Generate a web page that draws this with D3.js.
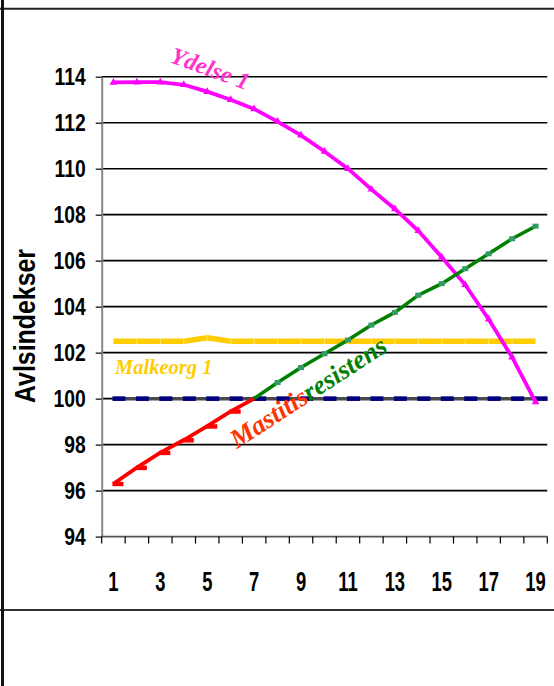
<!DOCTYPE html>
<html><head><meta charset="utf-8">
<script src="https://cdn.jsdelivr.net/npm/d3@7"></script>
<style>body{margin:0;background:#fff} svg{display:block}</style>
</head><body><svg id="c" width="554" height="686"></svg>
<script>
const categories = ["1","2","3","4","5","6","7","8","9","10","11","12","13","14","15","16","17","18","19"];
const xTickLabels = ["1","3","5","7","9","11","13","15","17","19"];
const yTicks = [94,96,98,100,102,104,106,108,110,112,114];
const ydelse   = [113.75,113.76,113.76,113.65,113.35,113.0,112.6,112.05,111.45,110.75,110.0,109.1,108.25,107.3,106.15,104.95,103.45,101.8,99.85];
const mastitis = [96.3,97.0,97.65,98.2,98.8,99.45,100.0,100.7,101.35,101.95,102.55,103.2,103.75,104.5,105.0,105.65,106.3,106.95,107.5];
const malkeorg = [102.5,102.5,102.5,102.5,102.65,102.5,102.5,102.5,102.5,102.5,102.5,102.5,102.5,102.5,102.5,102.5,102.5,102.5,102.5];
const basis    = [100,100,100,100,100,100,100,100,100,100,100,100,100,100,100,100,100,100,100];
const mastitisSplit = 6; // index where red changes to green

const svg = d3.select("#c");
const L = 101.7, R = 547.3, T = 76.7, B = 536.6;
const x = d3.scaleBand().domain(categories).range([L, R]);
const cx = c => x(c) + x.bandwidth() / 2;
const y = d3.scaleLinear().domain([94, 114]).range([B, T]);
const numFont = "'Liberation Sans',Arial,sans-serif";
const serif = "'Liberation Serif','Times New Roman',serif";

// frame
svg.append("line").attr("x1",0).attr("x2",554).attr("y1",8.8).attr("y2",8.8).attr("stroke","#222").attr("stroke-width",2);
svg.append("line").attr("x1",0).attr("x2",554).attr("y1",610).attr("y2",610).attr("stroke","#333").attr("stroke-width",2);
svg.append("line").attr("x1",2.5).attr("x2",2.5).attr("y1",0).attr("y2",686).attr("stroke","#111").attr("stroke-width",3);

// gridlines
svg.append("g").selectAll("line").data(yTicks.filter(t => t > 94)).join("line")
  .attr("x1", L).attr("x2", R).attr("y1", d => y(d)).attr("y2", d => y(d))
  .attr("stroke", "#000").attr("stroke-width", 1.6);

// y axis
const gy = svg.append("g").attr("transform", `translate(${L},0)`)
  .call(d3.axisLeft(y).tickValues(yTicks).tickSize(6).tickSizeOuter(0).tickPadding(10));
gy.select(".domain").attr("stroke", "#888").attr("stroke-width", 2);
gy.selectAll(".tick line").attr("stroke", "#000").attr("stroke-width", 1.2);
gy.selectAll(".tick text").attr("x", null).attr("transform", "translate(-16,0) scale(0.84,1)")
  .attr("font-family", numFont).attr("font-weight", "bold")
  .attr("font-size", 23).attr("fill", "#000").attr("dy", "0.36em");

// x axis
const gx = svg.append("g").attr("transform", `translate(0,${B})`);
gx.append("line").attr("x1", L).attr("x2", R).attr("stroke", "#555").attr("stroke-width", 1.6);
gx.selectAll("line.tk").data(categories.concat(["end"])).join("line").attr("class","tk")
  .attr("x1", d => d === "end" ? R : x(d)).attr("x2", d => d === "end" ? R : x(d))
  .attr("y1", 0).attr("y2", 7).attr("stroke", "#000").attr("stroke-width", 1.2);
gx.selectAll("text").data(xTickLabels).join("text")
  .attr("transform", d => `translate(${cx(d)},54) scale(0.8,1.2)`)
  .attr("text-anchor", "middle").attr("font-family", numFont).attr("font-weight", "bold")
  .attr("font-size", 23).attr("fill", "#000").text(d => d);

// y title
svg.append("text").attr("transform", "translate(35,403) rotate(-90)")
  .attr("font-family", numFont).attr("font-weight", "bold").attr("font-size", 30)
  .attr("textLength", 154).attr("lengthAdjust", "spacingAndGlyphs").attr("fill", "#000").text("Avlsindekser");

const line = d3.line().x(d => cx(d.c)).y(d => y(d.v));
const pts = arr => arr.map((v, i) => ({c: categories[i], v}));

// basis (100) grey line with navy dashes
const basisPts = pts(basis);
svg.append("path").attr("d", line(basisPts)).attr("fill", "none").attr("stroke", "#4a4a4a").attr("stroke-width", 3.5);
svg.append("g").selectAll("rect").data(basisPts).join("rect")
  .attr("x", d => cx(d.c) - 1).attr("y", d => y(d.v) - 2.3).attr("width", 13).attr("height", 4.6)
  .attr("fill", "#000080");

// malkeorg
const malkPts = pts(malkeorg);
svg.append("path").attr("d", line(malkPts)).attr("fill", "none").attr("stroke", "#ffcc00").attr("stroke-width", 5.5);
svg.append("g").selectAll("line").data(malkPts).join("line")
  .attr("x1", d => cx(d.c)).attr("x2", d => cx(d.c)).attr("y1", d => y(d.v) - 3).attr("y2", d => y(d.v) + 3)
  .attr("stroke", "#ffe680").attr("stroke-width", 1);

// ydelse
const ydPts = pts(ydelse);
svg.append("path").attr("d", line(ydPts)).attr("fill", "none").attr("stroke", "#ff00ff").attr("stroke-width", 3.8);
svg.append("g").selectAll("path").data(ydPts).join("path")
  .attr("transform", d => `translate(${cx(d.c)},${y(d.v)})`)
  .attr("d", d3.symbol(d3.symbolTriangle, 26)).attr("fill", "#ff00ff");

// mastitis red + green
const mPts = pts(mastitis);
const red = mPts.slice(0, mastitisSplit + 1), green = mPts.slice(mastitisSplit);
svg.append("path").attr("d", line(red)).attr("fill", "none").attr("stroke", "#ff0000").attr("stroke-width", 3.8);
svg.append("g").selectAll("rect").data(red.slice(0, mastitisSplit)).join("rect")
  .attr("x", d => cx(d.c) - 1).attr("y", d => y(d.v) - 2).attr("width", 11).attr("height", 4.5).attr("fill", "#ff0000");
svg.append("path").attr("d", line(green)).attr("fill", "none").attr("stroke", "#008000").attr("stroke-width", 3.5);
svg.append("g").selectAll("rect").data(green.slice(1)).join("rect")
  .attr("x", d => cx(d.c) - 3).attr("y", d => y(d.v) - 2.5).attr("width", 6).attr("height", 5).attr("fill", "#339966");

// annotations
svg.append("text").attr("transform", "translate(169,62) rotate(20)")
  .attr("font-family", serif).attr("font-style", "italic").attr("font-weight", "bold")
  .attr("font-size", 24).attr("fill", "#ff33cc").text("Ydelse 1");
svg.append("text").attr("x", 115).attr("y", 374)
  .attr("font-family", serif).attr("font-style", "italic").attr("font-weight", "bold")
  .attr("font-size", 20.5).attr("fill", "#ffcc00").text("Malkeorg 1");
const mt = svg.append("text").attr("transform", "translate(237,449) rotate(-33)")
  .attr("font-family", serif).attr("font-style", "italic").attr("font-weight", "bold").attr("font-size", 26.5);
mt.append("tspan").attr("fill", "#ff3300").text("Mastitis");
mt.append("tspan").attr("fill", "#008000").text("resistens");
</script></body></html>
